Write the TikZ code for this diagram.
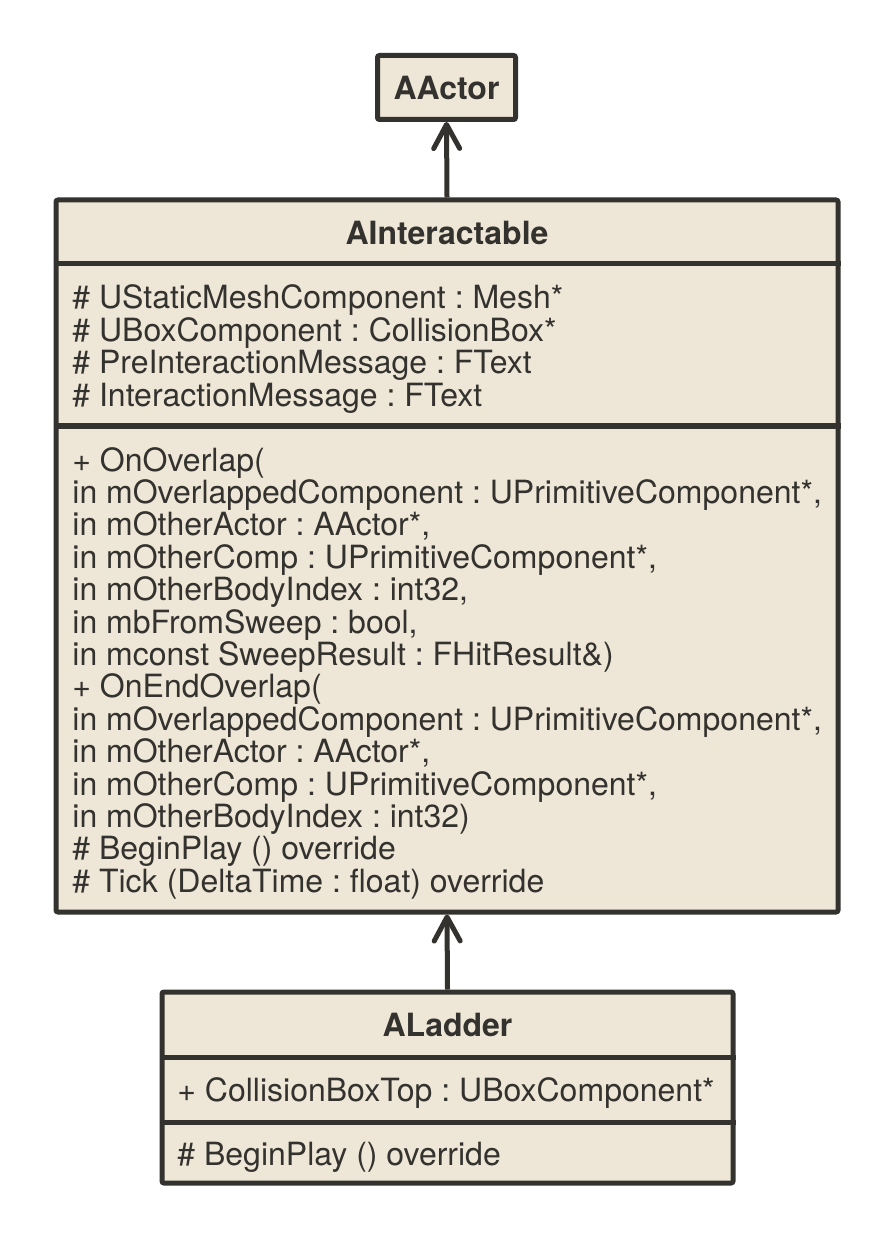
\documentclass[tikz,border=0pt]{standalone}
\usepackage{fontspec}
\setmainfont{TeX Gyre Heros}
\usetikzlibrary{arrows.meta}
\definecolor{umlfill}{RGB}{238,231,215}
\definecolor{umlline}{RGB}{52,50,46}
\frenchspacing

\begin{document}
\begin{tikzpicture}[x=0.5pt,y=-0.5pt,
	classbox/.style={draw=umlline,fill=umlfill,line width=2.5pt,rounded corners=1pt,inner sep=0pt},
	classline/.style={draw=umlline,line width=2.5pt},
	member/.style={anchor=base west,inner sep=0pt,text=umlline,font=\fontsize{16}{18}\selectfont},
	title/.style={anchor=base,inner sep=0pt,text=umlline,font=\fontsize{16}{18}\selectfont\bfseries},
	inherit/.style={draw=umlline,line width=2.5pt,-{Straight Barb[length=12pt,width=13pt,round]}}]
	\useasboundingbox (0,0) rectangle (894,1240);
	% classes
	\node[classbox,minimum width=69pt,minimum height=32pt] (aactor) at (446.5,87.5) {};
	\node[title] (aactortitle) at (446.5,100) {AActor};
	\node[classbox,minimum width=391pt,minimum height=356pt] (aint) at (447,556) {};
	\node[title] (ainttitle) at (447,244.5) {AInteractable};
	\draw[classline] (aint.west |- 0,264) -- (aint.east |- 0,264);
	\draw[classline] (aint.west |- 0,426) -- (aint.east |- 0,426);
	\node[classbox,minimum width=285.5pt,minimum height=95.5pt] (aladder) at (447.5,1087.5) {};
	\node[title] (aladdertitle) at (447.5,1036.5) {ALadder};
	\draw[classline] (aladder.west |- 0,1057) -- (aladder.east |- 0,1057);
	\draw[classline] (aladder.west |- 0,1122) -- (aladder.east |- 0,1122);
	% members
	\foreach \txt [count=\i] in {{\# UStaticMeshComponent : Mesh*},{\# UBoxComponent : CollisionBox*},
		{\# PreInteractionMessage : FText},{\# InteractionMessage : FText}}
		\node[member] (attr\i) at (72,{309+32.5*(\i-1)}) {\txt};
	\foreach \txt [count=\i] in {{+ OnOverlap(},{in mOverlappedComponent : UPrimitiveComponent*,},
		{in mOtherActor : AActor*,},{in mOtherComp : UPrimitiveComponent*,},
		{in mOtherBodyIndex : int32,},{in mbFromSweep : bool,},
		{in mconst SweepResult : FHitResult\&)},{+ OnEndOverlap(},
		{in mOverlappedComponent : UPrimitiveComponent*,},{in mOtherActor : AActor*,},
		{in mOtherComp : UPrimitiveComponent*,},{in mOtherBodyIndex : int32)},
		{\# BeginPlay () override},{\# Tick (DeltaTime : float) override}}
		\node[member] (op\i) at (72,{471+32.4*(\i-1)}) {\txt};
	\node[member] (ladderattr) at (177,1101) {+ CollisionBoxTop : UBoxComponent*};
	\node[member] (ladderop) at (177,1165) {\# BeginPlay () override};
	% generalisation
	\draw[inherit] (aint.north) -- (aactor.south);
	\draw[inherit] (aladder.north) -- (aint.south);
\end{tikzpicture}
\end{document}
